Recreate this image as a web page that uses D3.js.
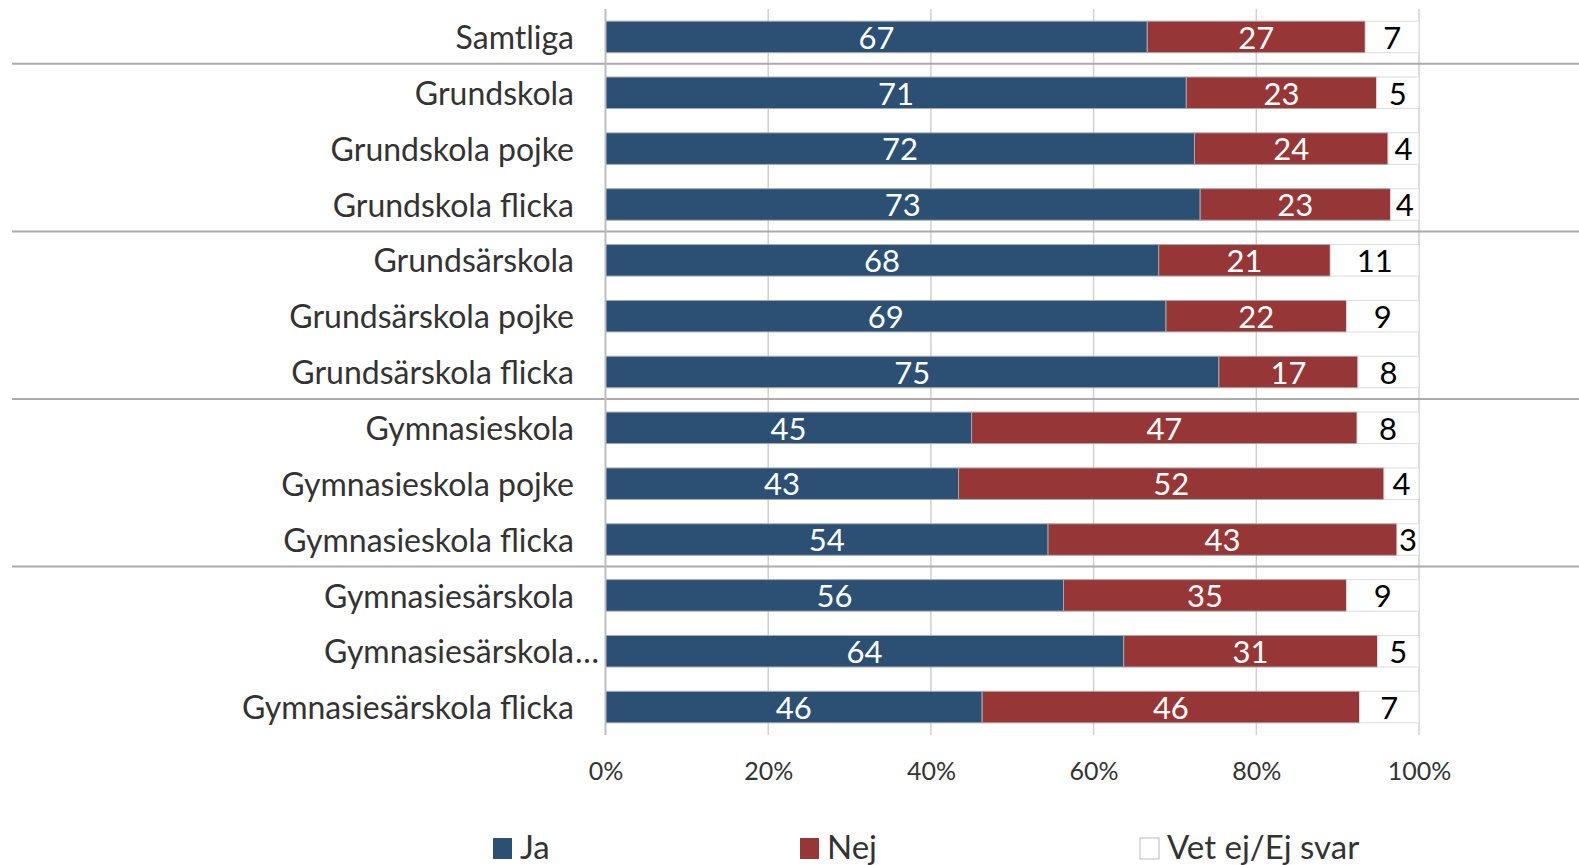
<!DOCTYPE html>
<html>
<head>
<meta charset="utf-8">
<script src="https://cdn.jsdelivr.net/npm/d3@7"></script>
<style>
  html, body { margin: 0; padding: 0; background: #fff; }
  svg { display: block; font-family: Lato, "Open Sans", sans-serif; }
</style>
</head>
<body>
<svg id="chart" width="1579" height="865"></svg>
<script>
const categories = ["Samtliga","Grundskola","Grundskola pojke","Grundskola flicka","Grundsärskola","Grundsärskola pojke","Grundsärskola flicka","Gymnasieskola","Gymnasieskola pojke","Gymnasieskola flicka","Gymnasiesärskola","Gymnasiesärskola…","Gymnasiesärskola flicka"];
const ja  = [66.6, 71.4, 72.4, 73.1, 68.0, 68.9, 75.4, 45.0, 43.4, 54.4, 56.3, 63.7, 46.3];
const nej = [26.8, 23.4, 23.8, 23.4, 21.1, 22.2, 17.1, 47.4, 52.3, 42.9, 34.8, 31.2, 46.4];
const vet = [6.6, 5.2, 3.8, 3.5, 10.9, 8.9, 7.5, 7.6, 4.3, 2.7, 8.9, 5.1, 7.3];
const seriesNames = ["Ja", "Nej", "Vet ej/Ej svar"];
const seriesColors = ["#2b5074", "#963636", "#ffffff"];
const tickValues = [0, 20, 40, 60, 80, 100];
const groupBreaks = [1, 4, 7, 10]; // category index where a new group starts

const svg = d3.select("#chart");
const plot = { left: 605.5, right: 1419, top: 9, bottom: 735 };

const x = d3.scaleLinear().domain([0, 100]).range([plot.left, plot.right]);
const y = d3.scaleBand().domain(categories).range([plot.top, plot.bottom]).paddingInner(0.436).paddingOuter(0.218);
const step = y.step();

const rows = categories.map((c, i) => ({ cat: c, "Ja": ja[i], "Nej": nej[i], "Vet ej/Ej svar": vet[i] }));
const stacked = d3.stack().keys(seriesNames)(rows);

// gridlines
svg.append("g").selectAll("line").data(tickValues.slice(1)).join("line")
  .attr("x1", d => x(d)).attr("x2", d => x(d))
  .attr("y1", plot.top).attr("y2", plot.bottom)
  .attr("stroke", "#d0d0d0").attr("stroke-width", 1.5);

// group separators
const bandTop = i => plot.top + step * i;
svg.append("g").selectAll("line").data(groupBreaks).join("line")
  .attr("x1", 12).attr("x2", 1579)
  .attr("y1", d => bandTop(d) - 1).attr("y2", d => bandTop(d) - 1)
  .attr("stroke", "#ababab").attr("stroke-width", 2);

// bars
const layers = svg.append("g").selectAll("g").data(stacked).join("g")
  .attr("fill", (d, i) => seriesColors[i]);
layers.selectAll("rect").data(d => d.map(v => ({ v, key: d.key }))).join("rect")
  .attr("x", d => x(d.v[0]))
  .attr("width", d => x(d.v[1]) - x(d.v[0]))
  .attr("y", d => y(d.v.data.cat))
  .attr("height", y.bandwidth())
  .attr("stroke", d => d.key === "Vet ej/Ej svar" ? "#dcdcdc" : "#a8a8a8")
  .attr("stroke-width", 1);

// value labels
const valFont = 31;
layers.selectAll("text").data(d => d.map(v => ({ v, key: d.key }))).join("text")
  .attr("x", d => (x(d.v[0]) + x(d.v[1])) / 2)
  .attr("y", d => y(d.v.data.cat) + y.bandwidth() / 2 + valFont * 0.38)
  .attr("text-anchor", "middle")
  .attr("font-size", valFont)
  .attr("fill", d => d.key === "Vet ej/Ej svar" ? "#000" : "#fff")
  .text(d => Math.round(d.v[1] - d.v[0]));

// left axis line
svg.append("line")
  .attr("x1", plot.left).attr("x2", plot.left)
  .attr("y1", plot.top).attr("y2", plot.bottom)
  .attr("stroke", "#bdbdbd").attr("stroke-width", 2);

// category labels
const catFont = 32;
const labelRight = 574;
const catG = svg.append("g");
categories.forEach(c => {
  const cy = y(c) + y.bandwidth() / 2 + catFont * 0.38;
  if (c.endsWith("…")) {
    catG.append("text").attr("x", labelRight).attr("y", cy).attr("text-anchor", "end")
      .attr("font-size", catFont).attr("fill", "#333").text(c.slice(0, -1));
    catG.append("text").attr("x", labelRight + 1).attr("y", cy).attr("text-anchor", "start")
      .attr("font-size", catFont).attr("fill", "#333").text("…");
  } else {
    catG.append("text").attr("x", labelRight).attr("y", cy).attr("text-anchor", "end")
      .attr("font-size", catFont).attr("fill", "#333").text(c);
  }
});

// x axis
const xAxis = d3.axisBottom(x).tickValues(tickValues).tickFormat(d => d + "%").tickSize(0);
const ax = svg.append("g").attr("transform", `translate(0,${plot.bottom})`).call(xAxis);
ax.select(".domain").remove();
ax.selectAll("text").attr("dy", null).attr("y", 45)
  .attr("font-size", 25).attr("fill", "#333").attr("font-family", "Lato, sans-serif");

// legend
const legendX = [493, 800, 1140];
const legend = svg.append("g").selectAll("g").data(seriesNames).join("g")
  .attr("transform", (d, i) => `translate(${legendX[i]},0)`);
legend.append("rect").attr("x", 0).attr("y", 838).attr("width", 19).attr("height", 21)
  .attr("fill", (d, i) => seriesColors[i])
  .attr("stroke", (d, i) => i === 2 ? "#bbbbbb" : "none").attr("stroke-width", 1);
legend.append("text").attr("x", 27).attr("y", 859)
  .attr("font-size", 33).attr("fill", "#333").text(d => d);
</script>
</body>
</html>
